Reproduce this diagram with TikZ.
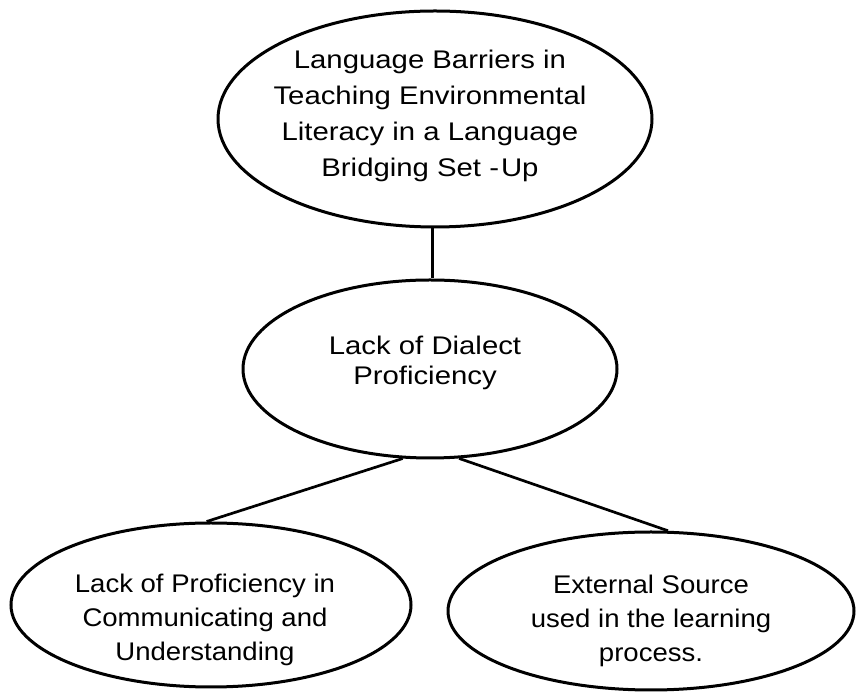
\documentclass[tikz,border=0pt]{standalone}
\usepackage{fontspec}
\setmainfont{Liberation Sans}[FakeStretch=1.15]
\newfontfamily\narrowfam{Liberation Sans}[FakeStretch=1.08]
\usetikzlibrary{shapes.geometric}
\begin{document}
\begin{tikzpicture}[x=1pt,y=1pt,
  oval/.style={draw=black, line width=3pt, ellipse, inner sep=0pt},
  lbl/.style={align=center, inner sep=0pt, font=\fontsize{25.5}{36}\selectfont},
  lowlbl/.style={align=center, inner sep=0pt, font=\narrowfam\fontsize{25.5}{34}\selectfont},
  link/.style={draw=black, line width=2.7pt}]
\useasboundingbox (0,0) rectangle (857,693);
% ellipses
\node[oval, minimum width=434pt, minimum height=216pt] (top) at (435,574) {};
\node[oval, minimum width=374pt, minimum height=178pt] (mid) at (430,324) {};
\node[oval, minimum width=400pt, minimum height=164pt] (left) at (211,88) {};
\node[oval, minimum width=406pt, minimum height=158pt] (right) at (651,82) {};
% texts
\node[lbl] (toptxt) at (430,577) {Language Barriers in\\Teaching Environmental\\Literacy in a Language\\Bridging Set -\hspace{2pt}Up};
\node[lbl, font=\fontsize{25.5}{30}\selectfont] (midtxt) at (425,330) {Lack of Dialect\\Proficiency};
\node[lowlbl] (lefttxt) at (205,73) {Lack of Proficiency in\\Communicating and\\Understanding};
\node[lowlbl] (righttxt) at (651,72) {External Source\\used in the learning\\process.};
% connectors
\coordinate (jx) at (432.5,0);
\draw[link] (top.south -| jx) -- (mid.north -| jx);
\draw[link] (mid.253) -- (left.93);
\draw[link] (mid.288) -- (right.78);
\end{tikzpicture}
\end{document}
